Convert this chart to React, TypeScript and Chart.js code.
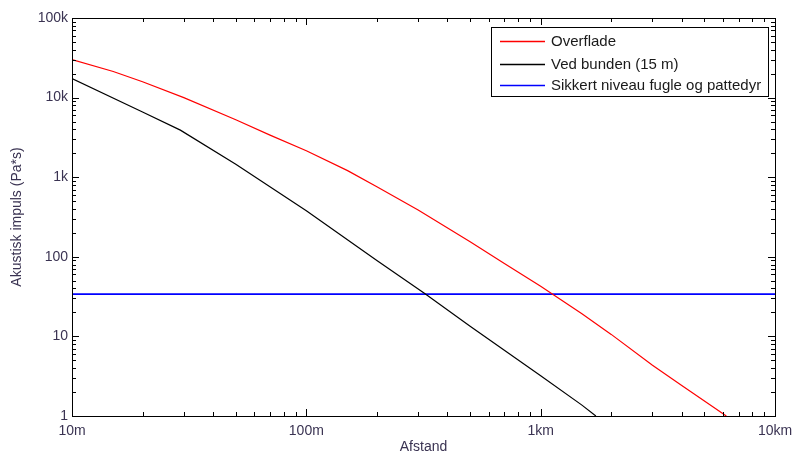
import React, { useEffect, useRef } from 'react';
import { Chart, registerables } from 'chart.js';

Chart.register(...registerables);

// ---- data ----
const surfaceDistance = [10, 15, 20, 30, 50, 70, 100, 150, 200, 300, 500, 700, 1000, 1500, 2000, 3000, 4000, 6200];
const surfaceImpulse = [30000, 21300, 15800, 10000, 5260, 3380, 2150, 1210, 757, 388, 155, 82.6, 42.7, 19.2, 10.6, 4.33, 2.41, 1];

const bottomDistance = [10, 20, 29, 50, 100, 200, 320, 500, 1000, 1500, 1720];
const bottomImpulse = [17300, 6600, 3900, 1450, 380, 90, 34.5, 13.4, 3.2, 1.37, 1];

const safeDistance = [10, 10000];
const safeImpulse = [34, 34];

const seriesLabels = ['Overflade', 'Ved bunden (15 m)', 'Sikkert niveau fugle og pattedyr'];
const seriesColors = ['#ff0000', '#000000', '#0000ff'];

const xTickValues = [10, 100, 1000, 10000];
const xTickLabels = ['10m', '100m', '1km', '10km'];
const yTickValues = [1, 10, 100, 1000, 10000, 100000];
const yTickLabels = ['1', '10', '100', '1k', '10k', '100k'];

const xTitle = 'Afstand';
const yTitle = 'Akustisk impuls (Pa*s)';

const FONT = 'Liberation Sans, Arial, sans-serif';
const TEXT_COLOR = '#3a3352';

const toPoints = (xs: number[], ys: number[]) => xs.map((x, i) => ({ x, y: ys[i] }));

const frameTicksPlugin = {
  id: 'frameTicks',
  afterDatasetsDraw(chart: any) {
    const { ctx, chartArea } = chart;
    const { left, right, top, bottom } = chartArea;
    const xs = chart.scales.x;
    const ys = chart.scales.y;
    ctx.save();
    ctx.strokeStyle = '#000';
    ctx.lineWidth = 1;
    ctx.beginPath();
    for (let d = 10; d <= 10000; d *= 10) {
      for (let m = 1; m <= 9; m++) {
        const v = d * m;
        if (v > 10000) break;
        const px = Math.round(xs.getPixelForValue(v)) + 0.5;
        const len = m === 1 ? 7 : 4;
        ctx.moveTo(px, bottom);
        ctx.lineTo(px, bottom - len);
        ctx.moveTo(px, top);
        ctx.lineTo(px, top + len);
      }
    }
    for (let d = 1; d <= 100000; d *= 10) {
      for (let m = 1; m <= 9; m++) {
        const v = d * m;
        if (v > 100000) break;
        const py = Math.round(ys.getPixelForValue(v)) + 0.5;
        const len = m === 1 ? 7 : 4;
        ctx.moveTo(left, py);
        ctx.lineTo(left + len, py);
        ctx.moveTo(right, py);
        ctx.lineTo(right - len, py);
      }
    }
    ctx.stroke();
    ctx.strokeRect(Math.round(left) + 0.5, Math.round(top) + 0.5, Math.round(right - left), Math.round(bottom - top));
    ctx.restore();
  },
};

const boxLegendPlugin = {
  id: 'boxLegend',
  afterDraw(chart: any) {
    const { ctx } = chart;
    const bx = 491, by = 27, bw = 277, bh = 69;
    ctx.save();
    ctx.fillStyle = '#fff';
    ctx.fillRect(bx, by, bw, bh);
    ctx.strokeStyle = '#000';
    ctx.lineWidth = 1;
    ctx.strokeRect(bx + 0.5, by + 0.5, bw, bh);
    const rows = [41, 63.5, 85];
    chart.data.datasets.forEach((ds: any, i: number) => {
      const y = rows[i];
      ctx.strokeStyle = seriesColors[i];
      ctx.lineWidth = 1.3;
      ctx.beginPath();
      ctx.moveTo(500, Math.round(y) + 0.5);
      ctx.lineTo(545, Math.round(y) + 0.5);
      ctx.stroke();
      ctx.fillStyle = '#1a1a1a';
      ctx.font = `15px ${FONT}`;
      ctx.textBaseline = 'middle';
      ctx.textAlign = 'left';
      ctx.fillText(ds.label, 551, y + 1);
    });
    ctx.restore();
  },
};

export default function App() {
  const canvasRef = useRef<HTMLCanvasElement | null>(null);

  useEffect(() => {
    document.body.style.margin = '0';
    const canvas = canvasRef.current;
    if (!canvas) return;
    const chart = new Chart(canvas, {
      type: 'line',
      data: {
        datasets: [
          {
            label: seriesLabels[0],
            data: toPoints(surfaceDistance, surfaceImpulse),
            borderColor: seriesColors[0],
            borderWidth: 1.2,
            pointRadius: 0,
            tension: 0,
          },
          {
            label: seriesLabels[1],
            data: toPoints(bottomDistance, bottomImpulse),
            borderColor: seriesColors[1],
            borderWidth: 1.2,
            pointRadius: 0,
            tension: 0,
          },
          {
            label: seriesLabels[2],
            data: toPoints(safeDistance, safeImpulse),
            borderColor: seriesColors[2],
            borderWidth: 1.6,
            pointRadius: 0,
            tension: 0,
          },
        ],
      },
      options: {
        responsive: false,
        animation: false,
        devicePixelRatio: 1,
        layout: { padding: { left: 0, right: 17, top: 18, bottom: 0 } },
        plugins: {
          legend: { display: false },
          tooltip: { enabled: false },
        },
        scales: {
          x: {
            type: 'logarithmic',
            position: 'bottom',
            min: 10,
            max: 10000,
            grid: { display: false, drawTicks: false },
            border: { display: false },
            afterBuildTicks: (s: any) => {
              s.ticks = xTickValues.map((v) => ({ value: v }));
            },
            afterFit: (s: any) => {
              s.height = 40;
              s.paddingLeft = 0;
              s.paddingRight = 0;
            },
            ticks: {
              autoSkip: false,
              maxRotation: 0,
              padding: 7,
              color: TEXT_COLOR,
              font: { family: FONT, size: 14 },
              callback: (v: any) => xTickLabels[xTickValues.indexOf(Number(v))] ?? '',
            },
            title: {
              display: true,
              text: xTitle,
              color: TEXT_COLOR,
              font: { family: FONT, size: 14 },
              padding: { top: 0, bottom: 0 },
            },
          },
          y: {
            type: 'logarithmic',
            position: 'left',
            min: 1,
            max: 100000,
            grid: { display: false, drawTicks: false },
            border: { display: false },
            afterBuildTicks: (s: any) => {
              s.ticks = yTickValues.map((v) => ({ value: v }));
            },
            afterFit: (s: any) => {
              s.width = 72;
              s.paddingTop = 0;
              s.paddingBottom = 0;
            },
            ticks: {
              autoSkip: false,
              padding: 4,
              color: TEXT_COLOR,
              font: { family: FONT, size: 14 },
              callback: (v: any) => yTickLabels[yTickValues.indexOf(Number(v))] ?? '',
            },
            title: {
              display: true,
              text: yTitle,
              color: TEXT_COLOR,
              font: { family: FONT, size: 14 },
              padding: { top: 9, bottom: 0 },
            },
          },
        },
      },
      plugins: [frameTicksPlugin, boxLegendPlugin],
    } as any);
    return () => chart.destroy();
  }, []);

  return (
    <div style={{ position: 'fixed', left: 0, top: 0, width: 792, height: 456, background: '#fff' }}>
      <canvas ref={canvasRef} width={792} height={456} style={{ display: 'block' }} />
    </div>
  );
}
